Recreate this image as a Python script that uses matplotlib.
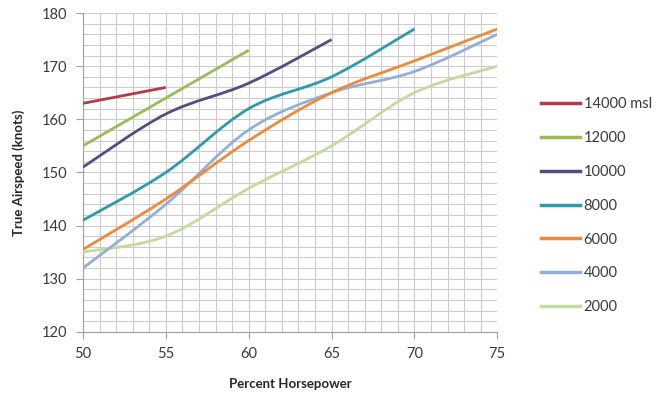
import numpy as np
import matplotlib
matplotlib.use("Agg")
import matplotlib.pyplot as plt
from matplotlib.path import Path
from matplotlib.patches import PathPatch
from matplotlib.lines import Line2D

plt.rcParams['font.family'] = ['Lato', 'DejaVu Sans']

# Percent horsepower vs true airspeed, one series per altitude
labels = ['14000 msl', '12000', '10000', '8000', '6000', '4000', '2000']
colors = ['#b5394a', '#9bbb59', '#5a4a7e', '#2e9aaa', '#ee8a3c', '#93afd6', '#c4da9f']

hp_14000 = [50, 55]
tas_14000 = [163, 166]
hp_12000 = [50, 55, 60]
tas_12000 = [155, 164, 173]
hp_10000 = [50, 55, 60, 65]
tas_10000 = [151, 161, 166.8, 175]
hp_8000 = [50, 55, 60, 65, 70]
tas_8000 = [141, 150, 162, 168, 177]
hp_6000 = [50, 55, 60, 65, 70, 75]
tas_6000 = [135.5, 145, 156, 165, 171, 177]
hp_4000 = [50, 55, 60, 65, 70, 75]
tas_4000 = [132, 144, 158, 165, 169, 176]
hp_2000 = [50, 55, 60, 65, 70, 75]
tas_2000 = [135, 138, 147, 155, 165, 170]

series = [(hp_14000, tas_14000), (hp_12000, tas_12000), (hp_10000, tas_10000),
          (hp_8000, tas_8000), (hp_6000, tas_6000), (hp_4000, tas_4000),
          (hp_2000, tas_2000)]


def smooth_path(x, y):
    # Excel-like smoothed line: cubic bezier through the data points
    p = np.column_stack([x, y]).astype(float)
    n = len(p)
    verts = [p[0]]
    codes = [Path.MOVETO]
    for i in range(n - 1):
        p0 = p[i - 1] if i > 0 else p[i]
        p1, p2 = p[i], p[i + 1]
        p3 = p[i + 2] if i + 2 < n else p[i + 1]
        c1 = p1 + (p2 - p0) / 6
        c2 = p2 - (p3 - p1) / 6
        verts += [c1, c2, p2]
        codes += [Path.CURVE4] * 3
    return Path(verts, codes)


fig = plt.figure(figsize=(6.72, 3.95), dpi=100)
ax = fig.add_axes([0.1235, 0.16, 0.6165, 0.807])

for (x, y), c in zip(reversed(series), reversed(colors)):
    ax.add_patch(PathPatch(smooth_path(x, y), facecolor='none', edgecolor=c,
                           lw=2.0, capstyle='butt', zorder=3))

ax.set_xlim(50, 75)
ax.set_ylim(120, 180)
ax.set_xticks(np.arange(50, 76, 5))
ax.set_yticks(np.arange(120, 181, 10))
ax.set_xticks(np.arange(50, 76, 1), minor=True)
ax.set_yticks(np.arange(120, 181, 2), minor=True)
ax.grid(True, which='both', color='#cccccc', lw=0.8, zorder=0)
ax.set_axisbelow(True)

for s in ['top', 'right']:
    ax.spines[s].set_visible(False)
for s in ['left', 'bottom']:
    ax.spines[s].set_color('#a0a0a0')
ax.tick_params(which='major', length=5, color='#a0a0a0', labelsize=10.5,
               labelcolor='#3a3a3a', pad=6)
ax.tick_params(which='minor', length=0)

ax.set_xlabel('Percent Horsepower', fontsize=9.5, fontweight='bold',
              color='#262626', labelpad=12)
ax.set_ylabel('True Airspeed (knots)', fontsize=9.5, fontweight='bold',
              color='#262626', labelpad=12)

handles = [Line2D([], [], color=c, lw=2.5) for c in colors]
fig.legend(handles, labels, loc='upper left', bbox_to_anchor=(0.785, 0.787),
           frameon=False, fontsize=10.5, handlelength=2.7, handletextpad=0.25,
           labelspacing=1.36, labelcolor='#3a3a3a')

fig.savefig('out.png', dpi=100)
